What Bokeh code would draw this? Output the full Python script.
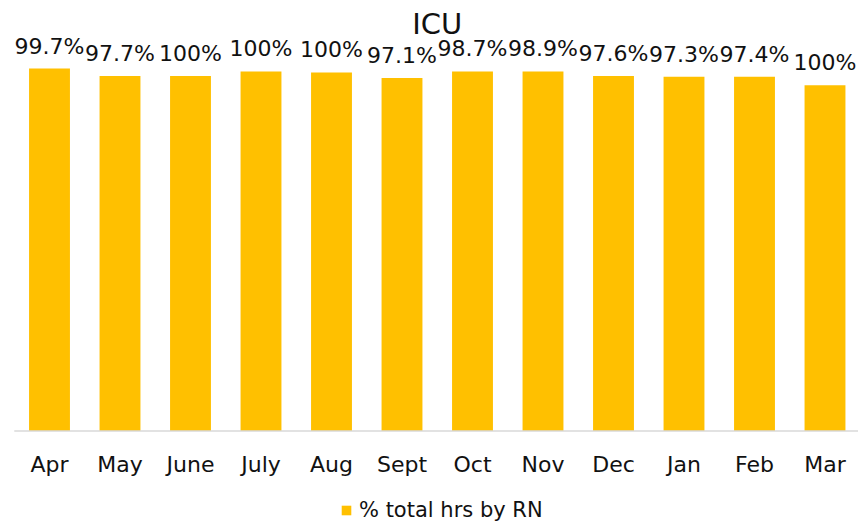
from bokeh.plotting import figure
from bokeh.models import ColumnDataSource, Range1d, LabelSet, Label, Legend, LegendItem
from bokeh.core.properties import value
from bokeh.embed import file_html
from bokeh.resources import INLINE

months = ["Apr", "May", "June", "July", "Aug", "Sept", "Oct", "Nov", "Dec", "Jan", "Feb", "Mar"]
# bar heights as drawn (relative scale, Apr = 100)
bar_values = [100.0, 97.9, 97.9, 99.2, 98.9, 97.4, 99.2, 99.2, 97.9, 97.7, 97.7, 95.4]
# data labels as printed above the bars
bar_labels = ["99.7%", "97.7%", "100%", "100%", "100%", "97.1%", "98.7%", "98.9%",
              "97.6%", "97.3%", "97.4%", "100%"]
series_name = "% total hrs by RN"
title_text = "ICU"

FONT = "DejaVu Sans"
BAR = "#FFC000"
TXT = "#111111"
W, H = 858, 523

# layout (pixels)
X_FIRST = 49.0      # centre of first bar
PITCH = 70.5        # distance between bar centres
BASE = 430.5        # baseline
PX_PER_UNIT = 3.625

idx = list(range(len(months)))
src = ColumnDataSource(dict(i=idx, m=months, v=bar_values, lab=bar_labels))

p = figure(width=W, height=H, output_backend="svg", toolbar_location=None,
           x_axis_location=None, y_axis_location=None,
           min_border=0, min_border_left=0, min_border_right=0,
           min_border_top=0, min_border_bottom=0)
p.x_range = Range1d(-X_FIRST / PITCH, (W - X_FIRST) / PITCH)
p.y_range = Range1d(-(H - BASE) / PX_PER_UNIT, BASE / PX_PER_UNIT)
p.outline_line_color = None
p.xgrid.visible = False
p.ygrid.visible = False

r = p.vbar(x="i", top="v", width=0.58, source=src, fill_color=BAR, line_color=None)

# baseline (category axis line)
p.segment(x0=[idx[0] - 0.5], y0=[0], x1=[idx[-1] + 0.5], y1=[0],
          line_color="#D9D9D9", line_width=1.5)

labels = LabelSet(x="i", y="v", text="lab", source=src, text_align="center",
                  text_baseline="alphabetic", y_offset=15, text_font=value(FONT),
                  text_font_size=value("22px"), text_color=value(TXT))
p.add_layout(labels)

cats = LabelSet(x="i", y=0, text="m", source=src, text_align="center",
                text_baseline="alphabetic", y_offset=-40.5, text_font=value(FONT),
                text_font_size=value("22px"), text_color=value(TXT))
p.add_layout(cats)

title = Label(x=(idx[0] + idx[-1]) / 2, y=(BASE - 34) / PX_PER_UNIT, y_offset=11,
              text=title_text, text_align="center", text_baseline="alphabetic",
              text_font=FONT, text_font_size="29px", text_color=TXT)
p.add_layout(title)

legend = Legend(items=[LegendItem(label=series_name, renderers=[r])],
                location=(340, 1), padding=0, margin=0, border_line_color=None,
                background_fill_alpha=0, glyph_width=12, glyph_height=12,
                label_standoff=7, label_text_font=FONT, label_text_font_size="21px",
                label_text_color=TXT, label_height=13)
p.add_layout(legend, "center")

open("out.html", "w").write(file_html(p, INLINE))
